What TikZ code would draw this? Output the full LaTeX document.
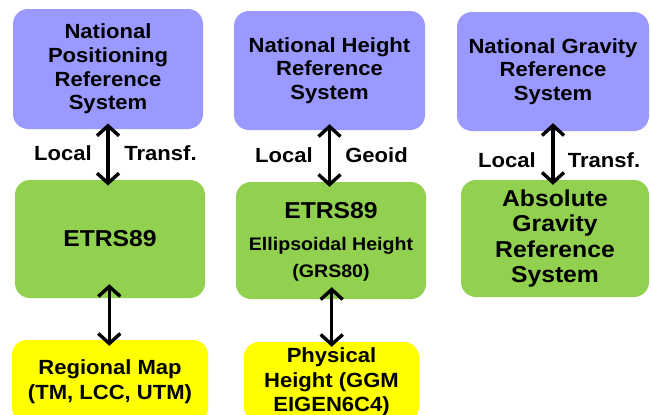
\documentclass[tikz,border=0pt]{standalone}
\usepackage{fontspec}
\setmainfont{Liberation Sans}[FakeStretch=1.075]
\usetikzlibrary{arrows.meta}
\definecolor{purp}{HTML}{9999FF}
\definecolor{grn}{HTML}{92D050}
\definecolor{yel}{HTML}{FFFF00}
\begin{document}
\begin{tikzpicture}[x=1pt,y=-1pt,
  boxbase/.style={rounded corners=15pt, inner sep=0pt, align=center, text=black},
  pbox/.style={boxbase, fill=purp, font=\bfseries\fontsize{20.5}{23.7}\selectfont},
  gbox/.style={boxbase, fill=grn, font=\bfseries\fontsize{23}{25.3}\selectfont},
  ybox/.style={boxbase, fill=yel, font=\bfseries\fontsize{20.5}{24.5}\selectfont},
  lbl/.style={anchor=base, inner sep=0pt, font=\bfseries\fontsize{20.5}{24}\selectfont},
  dar/.style={line width=3.4pt, {Straight Barb[length=10pt,width=22pt]}-{Straight Barb[length=10pt,width=22pt]}}
]
\useasboundingbox (0,0) rectangle (651,415);
% top row
\node[pbox, minimum width=190pt, minimum height=120pt] (p1) at (108,69) {National\\Positioning\\Reference\\System};
\node[pbox, minimum width=191pt, minimum height=119pt] (p2) at (329.5,70.5) {National Height\\Reference\\System};
\node[pbox, minimum width=192pt, minimum height=119pt] (p3) at (553,71.5) {National Gravity\\Reference\\System};
% middle row
\node[gbox, minimum width=190pt, minimum height=118pt] (g1) at (110,239) {ETRS89};
\node[gbox, minimum width=190pt, minimum height=117pt] (g2) at (331,240.5) {};
\node[anchor=base, inner sep=0pt, font=\bfseries\fontsize{23}{26}\selectfont] (g2a) at (331,218) {ETRS89};
\node[anchor=base, inner sep=0pt, font=\bfseries\fontsize{18.2}{22}\selectfont] (g2b) at (331,250) {Ellipsoidal Height};
\node[anchor=base, inner sep=0pt, font=\bfseries\fontsize{18.2}{22}\selectfont] (g2c) at (331,277) {(GRS80)};
\node[gbox, minimum width=188pt, minimum height=117pt] (g3) at (555,238.5) {Absolute\\Gravity\\Reference\\System};
% bottom row
\node[ybox, minimum width=196pt, minimum height=83pt] (y1) at (110,381.5) {Regional Map\\(TM, LCC, UTM)};
\node[ybox, minimum width=175pt, minimum height=80pt] (y2) at (331.5,382) {Physical\\Height (GGM\\EIGEN6C4)};
% labels
\node[lbl] (l1a) at (63,160) {Local};
\node[lbl] (l1b) at (160.5,160) {Transf.};
\node[lbl] (l2a) at (284,162) {Local};
\node[lbl] (l2b) at (376.5,162) {Geoid};
\node[lbl] (l3a) at (507,167) {Local};
\node[lbl] (l3b) at (604,167) {Transf.};
% arrows
\draw[dar, shorten <=-5.7pt, shorten >=-5.7pt] (p1.south) -- (p1.south |- g1.north);
\draw[dar, shorten <=-6pt, shorten >=-5pt] (p2.south) -- (p2.south |- g2.north);
\draw[dar, shorten <=-8pt, shorten >=-5pt] (p3.south) -- (p3.south |- g3.north);
\draw[dar, shorten <=-14pt, shorten >=-6pt] ([xshift=-0.7pt]g1.south) -- ([xshift=-0.7pt]g1.south |- y1.north);
\draw[dar, shorten <=-12pt, shorten >=-5pt] ([xshift=0.7pt]g2.south) -- ([xshift=0.7pt]g2.south |- y2.north);
\end{tikzpicture}
\end{document}
